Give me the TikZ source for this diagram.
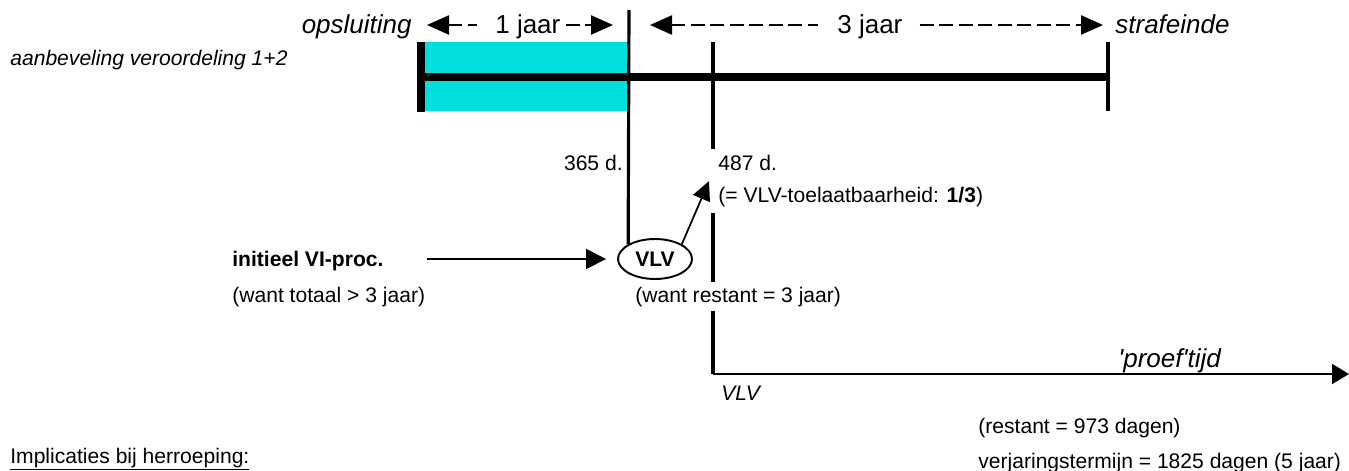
\documentclass[tikz,border=0pt]{standalone}
\usepackage{fontspec}
\setmainfont{Liberation Sans}
\usetikzlibrary{positioning,arrows.meta,shapes.geometric,calc}
\definecolor{jailcyan}{RGB}{0,222,222}
\tikzset{
  timebar/.style={line width=4.6pt},
  endbar/.style={line width=4.6pt},
  tickline/.style={line width=1.8pt},
  spanarrow/.style={line width=1.4pt, dash pattern=on 0.28cm off 0.11cm},
  linkarrow/.style={-{Triangle[length=0.4cm, width=0.4cm]}, line width=1pt},
  txt/.style={font=\fontsize{12}{14}\selectfont, inner sep=0pt},
  toplbl/.style={font=\fontsize{14.8}{17}\selectfont, inner sep=0pt},
  cover/.style={fill=white, font=\fontsize{12}{18.1}\selectfont, align=left},
  vlvbox/.style={draw, ellipse, line width=1.1pt, minimum width=1.48cm, minimum height=0.8cm, inner sep=0pt, font=\fontsize{12}{14}\selectfont\bfseries}
}

\begin{document}
\begin{tikzpicture}[x=0.02cm, y=-0.02cm, >={Triangle[length=0.44cm, width=0.38cm]}]
  \useasboundingbox (0,0) rectangle (1349,470);

  % sentence bar with the detention year
  \coordinate (start) at (421,77);
  \coordinate (end) at (1108,77);
  \fill[jailcyan] (425,42) rectangle (628,111);
  \draw[endbar] (421,42) -- (421,112);
  \draw[timebar] (start) -- (end);
  \draw[tickline] (1108,42) -- (1108,111);

  % labels above the bar
  \node[toplbl, anchor=base east] (opsl) at (412,33) {\itshape opsluiting};
  \node[toplbl, anchor=base west] (jaar1) at (495,33) {1 jaar};
  \node[toplbl, anchor=base west] (jaar3) at (837,33) {3 jaar};
  \node[toplbl, anchor=base west] (eind) at (1115,33) {\itshape strafeinde};
  \node[txt, anchor=base west] (advies) at (10,65) {\itshape aanbeveling veroordeling 1+2};

  \coordinate (a1l) at (427,25);
  \coordinate (a1r) at (613,25);
  \coordinate (a3l) at (650,25);
  \coordinate (a3r) at (1103,25);
  \draw[spanarrow, <-, shorten >=0.36cm] (a1l) -- (a1l -| jaar1.west);
  \draw[spanarrow, ->, shorten <=0.1cm] (a1r -| jaar1.east) -- (a1r);
  \draw[spanarrow, <-, shorten >=0.38cm] (a3l) -- (a3l -| jaar3.west);
  \draw[spanarrow, ->, shorten <=0.34cm] (a3r -| jaar3.east) -- (a3r);

  % release on probation
  \node[vlvbox] (vlv) at (655,259) {VLV};
  \coordinate (d365) at (629,10);
  \draw[tickline] (d365) -- (vlv.north west);
  \node[txt, anchor=base east] (l365) at (623,170) {365 d.};

  \coordinate (d487) at (713,42);
  \coordinate (vlvstart) at (713,374);
  \coordinate (proefend) at (1349,374);
  \draw[tickline] (d487) -- (vlvstart);
  \node[cover, anchor=north west, inner xsep=0.18cm, inner ysep=0.12cm] (n487) at (709,149)
    {487 d.\\(= VLV-toelaatbaarheid: \textbf{1/3})};
  \node[cover, anchor=base west, inner sep=0.1cm] (want3) at (630,302) {(want restant = 3 jaar)};

  \node[txt, anchor=base west] (vi) at (232,266) {\bfseries initieel VI-proc.};
  \node[txt, anchor=base west] (viwhy) at (232,302) {(want totaal > 3 jaar)};
  \draw[linkarrow, shorten <=0.86cm, shorten >=0.22cm] (vi.east |- vlv.west) -- (vlv.west);
  \draw[-{Triangle[length=0.38cm, width=0.36cm]}, line width=1pt] (vlv.north east) -- (n487.west);

  % probation period
  \draw[line width=1.1pt, -{Triangle[length=0.34cm, width=0.4cm]}] (vlvstart) -- (proefend);
  \node[toplbl, anchor=base west] (proef) at (1118,367) {\itshape \textquotesingle proef\textquotesingle tijd};
  \node[txt, anchor=base west] (vlvlbl) at (721,400) {\itshape VLV};
  \node[txt, anchor=base west] (rest) at (978,433) {(restant = 973 dagen)};
  \node[txt, anchor=base west] (verj) at (978,468) {verjaringstermijn = 1825 dagen (5 jaar)};
  \node[txt, anchor=base west] (impl) at (10,463) {\underline{Implicaties bij herroeping:}};
\end{tikzpicture}
\end{document}
